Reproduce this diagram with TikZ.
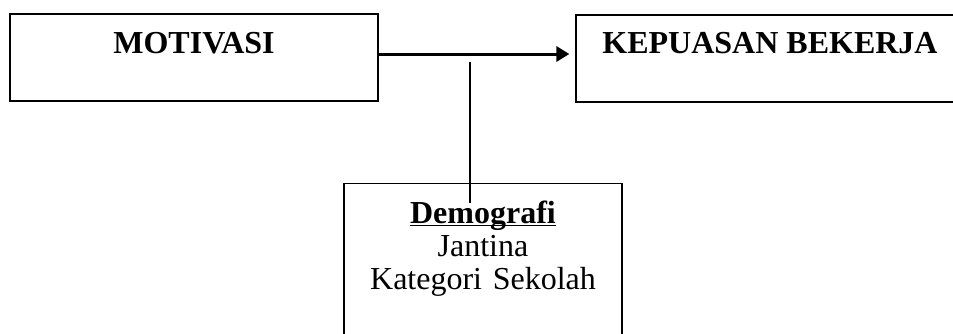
\documentclass[tikz,border=0pt]{standalone}
\usepackage{fontspec}
\setmainfont{Liberation Serif}
\usetikzlibrary{arrows.meta}

\begin{document}
\begin{tikzpicture}[x=1pt,y=-1pt,line width=1.2pt,>={Triangle[length=13pt,width=15pt]},box node/.style={rectangle,draw,inner sep=0pt,font=\fontsize{32}{33}\selectfont}]
            \clip (0,0) rectangle (953,333);
            \node[box node,font=\fontsize{32}{33}\selectfont\bfseries,minimum width=368pt,text height=39pt,text depth=48pt] (1) at (194,57.5) {MOTIVASI};
            \node[box node,font=\fontsize{32}{33}\selectfont\bfseries,minimum width=388pt,text height=38pt,text depth=49pt] (2) at (770,58.5) {KEPUASAN BEKERJA};
            \node[box node,anchor=north,text width=278pt,align=center,text height=40pt,text depth=122pt] (3) at (483,183) {\underbar{\textbf{Demografi}}\\Jantina\\Kategori Sekolah};
            \coordinate (4) at (470,62);
            \coordinate (5) at (470,203);

            \draw[->,line width=3pt,shorten >=6pt] ([yshift=3.5pt]1.east) -- ([yshift=4.5pt]2.west);
            \draw (4) -- (5);
        \end{tikzpicture}
\end{document}
